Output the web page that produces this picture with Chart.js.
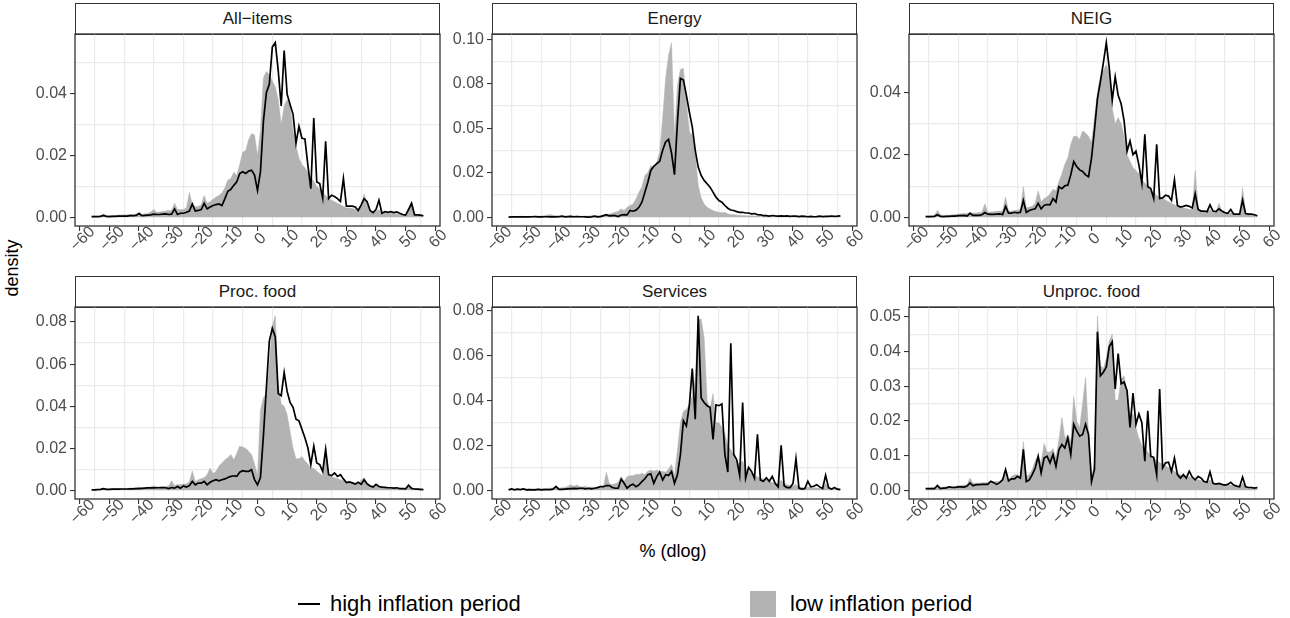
<!DOCTYPE html>
<html>
<head>
<meta charset="utf-8">
<script src="https://cdn.jsdelivr.net/npm/chart.js@4/dist/chart.umd.min.js"></script>
<style>
body { margin: 0; background: #fff; font-family: "Liberation Sans", Arial, sans-serif; }
#page { position: relative; width: 1290px; height: 618px; overflow: hidden; background: #fff; }
.strip { position: absolute; box-sizing: border-box; border: 1.3px solid #333; background: #fff;
         color: #1a1a1a; font-size: 17px; text-align: center; line-height: 29px; }
canvas { position: absolute; }
.title { position: absolute; color: #000; font-size: 18px; text-align: center; line-height: 20px; }
.legend-text { position: absolute; font-size: 22px; line-height: 24px; color: #000; white-space: nowrap; }
</style>
</head>
<body>
<div id="page">
  <div class="title" style="left:-38px; top:258px; width:100px; transform: rotate(-90deg);">density</div>
  <div class="title" style="left:573px; top:541px; width:200px;">% (dlog)</div>
  <div style="position:absolute; left:298px; top:603px; width:22px; height:2px; background:#000;"></div>
  <div class="legend-text" style="left:330px; top:592px;">high inflation period</div>
  <div style="position:absolute; left:750px; top:591px; width:26px; height:26px; background:#b3b3b3;"></div>
  <div class="legend-text" style="left:790px; top:592px;">low inflation period</div>
</div>
<script>
// price change grid (% dlog)
const xs = [-56,-55,-54,-53,-52,-51,-50,-49,-48,-47,-46,-45,-44,-43,-42,-41,-40,-39,-38,-37,-36,-35,-34,-33,-32,-31,
  -30,-29,-28,-27,-26,-25,-24,-23,-22,-21,-20,-19,-18,-17,-16,-15,-14,-13,-12,-11,-10,-9,-8,-7,-6,-5,-4,-3,-2,-1,
  0,1,2,3,4,5,6,7,8,9,10,11,12,13,14,15,16,17,18,19,20,21,22,23,24,25,26,27,28,29,30,
  31,32,33,34,35,36,37,38,39,40,41,42,43,44,45,46,47,48,49,50,51,52,53,54,55,56];

const xTicks = [-60,-50,-40,-30,-20,-10,0,10,20,30,40,50,60];
const xMinorBreaks = [-55,-45,-35,-25,-15,-5,5,15,25,35,45,55];

// density, high inflation period (line) and low inflation period (area)
const allItemsHigh = [.0002,.0002,.0002,.0003,.0006,.0003,.0002,.0003,.0003,.0004,.0004,.0004,.0004,.0005,.0005,.0006,.0012,.0005,.0006,.0007,.0008,.001,.0009,.0009,.001,.0011,
  .0009,.001,.0027,.0009,.0013,.0013,.0016,.002,.0043,.002,.0022,.0025,.0045,.0027,.0033,.0038,.0041,.0043,.0038,.006,.0084,.009,.0103,.0114,.0141,.0147,.0141,.0149,.0152,.0136,
  .0087,.0147,.031,.0402,.043,.0549,.0563,.0473,.0359,.0538,.0397,.0364,.0332,.0239,.0293,.0255,.0253,.0168,.0092,.032,.0114,.0109,.0062,.0245,.006,.0071,.0067,.006,.0051,.0125,.0036,
  .0036,.0036,.0033,.0022,.004,.006,.005,.0022,.0015,.0025,.0055,.0013,.0018,.0016,.0018,.0015,.0017,.0013,.0009,.0007,.0025,.0045,.0008,.0008,.0007,.0005];
const allItemsLow = [.0004,.0004,.0004,.0005,.001,.0006,.0005,.0006,.0006,.0007,.0007,.0008,.0008,.0009,.0009,.001,.0016,.001,.0011,.0012,.0018,.0025,.0016,.0017,.0019,.002,
  .0022,.0022,.0045,.0025,.0025,.0025,.003,.008,.004,.0035,.0035,.004,.007,.0045,.005,.0058,.0065,.007,.0078,.0095,.012,.0125,.0145,.0135,.017,.021,.0215,.025,.027,.0265,
  .02,.028,.045,.047,.046,.044,.042,.038,.03,.036,.038,.036,.028,.023,.019,.017,.016,.0145,.013,.0115,.01,.009,.008,.007,.006,.0055,.005,.0045,.004,.0035,.003,
  .003,.0028,.0026,.0025,.004,.0075,.004,.002,.0018,.0018,.0025,.0015,.0014,.0013,.0013,.0012,.0011,.001,.0009,.0009,.003,.005,.001,.0007,.0006,.0005];

const energyHigh = [.0001,.0002,.0002,.0003,.0002,.0003,.0002,.0002,.0003,.0004,.0002,.0002,.0003,.0003,.0002,.0003,.0002,.0003,.0006,.0002,.0004,.0005,.0003,.0004,.0003,.0003,
  .0002,.0001,.0002,.0006,.0002,.0004,.0009,.0015,.0008,.0009,.0009,.0004,.0013,.0015,.0013,.0038,.0034,.004,.0056,.0085,.014,.0197,.0263,.0286,.0301,.0314,.0376,.0423,.0438,.036,
  .0239,.0536,.078,.0771,.0686,.0592,.0508,.0376,.0282,.0235,.0207,.0188,.0169,.0141,.0113,.0094,.0085,.0066,.0051,.0041,.0038,.0032,.0028,.0028,.0024,.0024,.0019,.0021,.0015,.0014,.0009,
  .0009,.0007,.001,.0008,.0007,.0008,.0006,.0008,.0005,.0007,.0006,.0004,.0006,.0005,.0003,.0005,.0003,.0004,.0006,.0004,.0005,.0005,.0007,.0005,.0006,.0008];
const energyLow = [.0003,.0005,.0004,.0005,.0006,.0005,.0004,.0005,.0006,.0005,.0006,.0007,.0009,.0013,.0015,.0012,.0009,.0008,.0007,.0007,.0006,.0007,.0006,.0006,.0007,.0006,
  .0007,.0007,.0008,.0008,.0009,.001,.0012,.0014,.0018,.0022,.0028,.0034,.0047,.0038,.0056,.0066,.0075,.0103,.014,.017,.0235,.025,.029,.028,.031,.0367,.0555,.078,.091,.098,
  .045,.074,.083,.0837,.065,.048,.046,.0348,.018,.011,.0075,.0056,.0047,.0038,.0032,.0028,.0025,.0028,.0019,.0016,.0015,.0012,.0012,.001,.0009,.0008,.0008,.0007,.0007,.0006,.0006,
  .0006,.0005,.0005,.0005,.0005,.0005,.0004,.0004,.0004,.0004,.0004,.0004,.0004,.0004,.0004,.0004,.0005,.0005,.0004,.0003,.0003,.0003,.0003,.0004,.0003,.0003];

const neigHigh = [.0002,.0002,.0002,.0003,.0008,.0003,.0002,.0003,.0003,.0004,.0004,.0005,.0005,.0006,.0004,.0013,.0006,.0006,.0006,.0008,.0015,.001,.0009,.0009,.001,.0011,
  .0009,.0035,.0013,.0013,.0016,.0014,.0016,.0054,.0016,.0022,.0025,.0027,.0045,.0027,.0038,.0041,.004,.006,.0049,.0098,.0092,.0101,.0103,.0136,.0179,.0163,.0152,.0147,.0136,.013,
  .019,.028,.038,.0435,.0495,.056,.0478,.0375,.0451,.0391,.0364,.031,.0212,.0245,.0201,.0212,.0168,.0109,.0266,.0098,.0092,.006,.0234,.006,.0062,.0071,.0068,.0054,.012,.0038,.0033,
  .0035,.0038,.0035,.003,.0075,.0025,.002,.002,.0018,.004,.002,.0018,.0027,.002,.0015,.0013,.0025,.001,.001,.001,.0055,.0012,.001,.001,.0008,.0005];
const neigLow = [.0004,.0004,.0005,.0006,.0022,.0008,.0006,.0006,.0007,.0008,.0009,.001,.0011,.0012,.0012,.0013,.0014,.0014,.0015,.0016,.0043,.0016,.0017,.0018,.0019,.002,
  .002,.0065,.002,.002,.0022,.0023,.0025,.0098,.003,.0033,.0035,.0045,.0085,.005,.006,.0065,.0075,.009,.0085,.0115,.014,.017,.019,.0234,.026,.026,.025,.0277,.027,.026,
  .024,.032,.04,.045,.047,.049,.046,.035,.03,.032,.03,.026,.02,.018,.016,.015,.014,.012,.011,.01,.0085,.008,.007,.0065,.006,.0055,.005,.0045,.004,.0035,.003,
  .003,.0028,.0025,.0025,.015,.003,.002,.0018,.0017,.0025,.0015,.0015,.0045,.002,.0012,.0011,.0015,.001,.0009,.001,.0095,.0012,.0008,.0007,.0006,.0005];

const procFoodHigh = [.0002,.0002,.0003,.0004,.0008,.0004,.0004,.0005,.0006,.0005,.0006,.0006,.0006,.0007,.0007,.0008,.0008,.0009,.001,.0011,.0012,.0011,.0012,.0012,.0013,.0012,
  .0008,.0013,.001,.0018,.001,.0021,.0015,.0022,.0042,.0026,.0034,.0034,.0042,.0026,.0038,.0045,.005,.0045,.005,.0054,.0061,.0066,.0069,.0066,.0086,.0093,.009,.009,.0098,.005,
  .0026,.006,.026,.049,.071,.077,.073,.046,.045,.056,.047,.0418,.0394,.0338,.033,.029,.025,.0202,.0122,.021,.013,.0122,.009,.0194,.0074,.007,.0082,.0066,.0074,.0054,.0037,
  .004,.0035,.003,.0038,.0028,.005,.003,.002,.0015,.0028,.0018,.0015,.0014,.0012,.0012,.001,.0012,.0008,.0008,.0007,.0024,.0009,.0006,.0005,.0004,.0003];
const procFoodLow = [.0004,.0004,.0005,.0005,.0009,.0006,.0006,.0007,.0007,.0008,.0008,.0009,.0009,.001,.0011,.0012,.0016,.0012,.0013,.0014,.0016,.0022,.0016,.0017,.0017,.0018,
  .002,.0045,.0022,.0028,.0027,.003,.003,.004,.0092,.004,.005,.0055,.006,.0075,.0105,.008,.009,.0115,.013,.0145,.0155,.017,.0145,.0175,.021,.0205,.02,.0185,.017,.0125,
  .007,.038,.044,.046,.06,.078,.083,.05,.041,.04,.036,.028,.02,.015,.015,.016,.014,.0125,.0105,.0105,.009,.008,.007,.022,.007,.0065,.006,.0055,.005,.0045,.004,
  .0035,.0033,.003,.003,.005,.006,.0035,.0025,.002,.002,.0018,.0016,.0015,.0014,.0013,.0012,.0011,.001,.001,.0009,.003,.001,.0008,.0007,.0006,.0005];

const servicesHigh = [.0002,.0006,.0002,.0005,.0003,.0006,.0002,.0003,.0002,.0002,.0004,.0002,.0003,.0003,.0003,.0005,.0017,.0004,.0004,.0005,.0006,.0007,.0008,.0007,.0009,.0009,
  .0006,.0009,.0006,.0009,.0012,.0016,.0016,.0021,.0021,.0012,.0009,.0009,.005,.0031,.0009,.0021,.0027,.0016,.0024,.0039,.0051,.0069,.0073,.0031,.0061,.0081,.0046,.0069,.0066,.0084,
  .0031,.0069,.0159,.0309,.0286,.0376,.0541,.0316,.0776,.041,.039,.0376,.0369,.0226,.038,.0376,.0384,.0159,.0081,.0653,.0159,.0136,.0066,.039,.0054,.0102,.0084,.0054,.0249,.0045,.004,
  .0055,.004,.0062,.003,.0015,.02,.002,.0012,.0012,.003,.014,.001,.0005,.0008,.004,.0015,.0018,.0025,.0015,.0008,.0067,.0012,.0005,.0012,.0005,.0003];
const servicesLow = [.0005,.0006,.0005,.0007,.0005,.0007,.0006,.0006,.0006,.0007,.0007,.0007,.0008,.0008,.0009,.001,.0014,.001,.0011,.0012,.0018,.0025,.0018,.0024,.0016,.0015,
  .0018,.0012,.0015,.001,.0015,.0012,.0015,.008,.003,.0025,.003,.0035,.006,.004,.006,.0065,.0065,.007,.007,.0075,.007,.0085,.009,.0085,.009,.0085,.0085,.008,.0095,.0115,
  .0065,.018,.03,.035,.036,.038,.042,.05,.076,.076,.068,.04,.036,.043,.03,.03,.028,.025,.02,.018,.016,.012,.012,.013,.0095,.009,.0075,.0065,.006,.0055,.005,
  .0045,.004,.0035,.003,.003,.0045,.003,.0025,.002,.002,.0025,.0015,.0013,.0012,.0015,.0012,.0011,.001,.001,.0009,.003,.001,.0008,.0008,.0007,.0006];

const unprocFoodHigh = [.0005,.0005,.0005,.0005,.0014,.0005,.0006,.0007,.001,.0008,.0008,.001,.001,.0009,.0012,.0021,.0013,.0016,.0016,.0017,.0017,.0017,.0026,.0022,.0017,.0022,
  .003,.006,.0027,.0033,.0033,.004,.0035,.0118,.0025,.003,.0045,.0064,.0098,.005,.0093,.0098,.0079,.0103,.0069,.0117,.0132,.0122,.0151,.0103,.019,.0171,.0156,.0161,.019,.0161,
  .0025,.006,.0457,.033,.034,.0355,.0414,.0428,.0292,.0394,.0307,.0312,.0287,.0181,.028,.019,.022,.0195,.0084,.0229,.0098,.0095,.0045,.0292,.0064,.0079,.0081,.0054,.0093,.0045,.0035,
  .0045,.0035,.0055,.0038,.003,.004,.0035,.0025,.0023,.0053,.002,.0018,.002,.0017,.0015,.0017,.0023,.0015,.0012,.001,.0038,.001,.0008,.0008,.0006,.0008];
const unprocFoodLow = [.0006,.0006,.0007,.0007,.0012,.0008,.0009,.001,.001,.0011,.0012,.0013,.0014,.0015,.0016,.0035,.002,.002,.0021,.0022,.0022,.0023,.0025,.0025,.0025,.0025,
  .0035,.0055,.003,.004,.0045,.0045,.004,.014,.004,.0045,.006,.0085,.01,.008,.0135,.011,.011,.012,.0095,.0145,.021,.015,.016,.014,.027,.02,.018,.025,.0325,.016,
  .0035,.008,.0503,.036,.035,.038,.043,.045,.026,.026,.032,.033,.028,.022,.022,.018,.015,.013,.012,.011,.01,.009,.0085,.008,.0075,.007,.0065,.006,.0055,.005,.0045,
  .004,.0035,.004,.0035,.003,.003,.0028,.0025,.0022,.003,.002,.0018,.0017,.0016,.0015,.0014,.0015,.0013,.0011,.001,.002,.001,.0009,.0008,.0007,.0006];

// y axis breaks and their labels, per facet
const yTicksBy02 = [0, 0.02, 0.04];
const yLabelsBy02 = ['0.00', '0.02', '0.04'];
const yTicksEnergy = [0, 0.025, 0.05, 0.075, 0.1];
const yLabelsEnergy = ['0.00', '0.02', '0.05', '0.08', '0.10'];
const yTicksTo08 = [0, 0.02, 0.04, 0.06, 0.08];
const yLabelsTo08 = ['0.00', '0.02', '0.04', '0.06', '0.08'];
const yTicksUnproc = [0, 0.01, 0.02, 0.03, 0.04, 0.05];
const yLabelsUnproc = ['0.00', '0.01', '0.02', '0.03', '0.04', '0.05'];

const panels = [
  { title: 'All\u2212items', high: allItemsHigh, low: allItemsLow, yTicks: yTicksBy02, yLabels: yLabelsBy02 },
  { title: 'Energy', high: energyHigh, low: energyLow, yTicks: yTicksEnergy, yLabels: yLabelsEnergy },
  { title: 'NEIG', high: neigHigh, low: neigLow, yTicks: yTicksBy02, yLabels: yLabelsBy02 },
  { title: 'Proc. food', high: procFoodHigh, low: procFoodLow, yTicks: yTicksTo08, yLabels: yLabelsTo08 },
  { title: 'Services', high: servicesHigh, low: servicesLow, yTicks: yTicksTo08, yLabels: yLabelsTo08 },
  { title: 'Unproc. food', high: unprocFoodHigh, low: unprocFoodLow, yTicks: yTicksUnproc, yLabels: yLabelsUnproc }
];

// facet geometry
const colLeft = [75, 492, 909];
const rowTop = [34, 307];
const plotW = 365, plotH = 192, axisW = 50, axisH = 45, padR = 14, padT = 10, stripH = 31;

const FONT = '"Liberation Sans", Arial, Helvetica, sans-serif';
Chart.defaults.font.family = FONT;

const panelDecor = {
  id: 'panelDecor',
  afterDatasetsDraw(chart) {
    const { ctx, chartArea: a } = chart;
    ctx.save();
    ctx.strokeStyle = '#333333';
    ctx.lineWidth = 1.3;
    ctx.strokeRect(a.left, a.top, a.right - a.left, a.bottom - a.top);
    ctx.restore();
  },
  afterDraw(chart) {
    // x labels turned 45 degrees and centred under the tick, as ggplot does
    const sx = chart.scales.x, ctx = chart.ctx;
    ctx.save();
    ctx.fillStyle = '#4d4d4d';
    ctx.font = '16px ' + FONT;
    ctx.textAlign = 'center';
    ctx.textBaseline = 'middle';
    sx.ticks.forEach(t => {
      const px = sx.getPixelForValue(t.value);
      ctx.save();
      ctx.translate(px + 3, chart.chartArea.bottom + 13);
      ctx.rotate(-Math.PI / 4);
      ctx.fillText(String(t.value).replace('-', '\u2212'), 0, 0);
      ctx.restore();
    });
    ctx.restore();
  }
};

// fixed axis boxes, no extra padding for edge labels
function fixHorizontal(h) {
  return s => { s.height = h; s.paddingLeft = 0; s.paddingRight = 0; s.paddingTop = 0; s.paddingBottom = 0; };
}
function fixVertical(w) {
  return s => { s.width = w; s.paddingLeft = 0; s.paddingRight = 0; s.paddingTop = 0; s.paddingBottom = 0; };
}

const page = document.getElementById('page');

function drawPanel(p, idx) {
  const left = colLeft[idx % 3], top = rowTop[Math.floor(idx / 3)];

  const strip = document.createElement('div');
  strip.className = 'strip';
  strip.style.left = left + 'px';
  strip.style.top = (top - stripH) + 'px';
  strip.style.width = plotW + 'px';
  strip.style.height = (stripH + 1) + 'px';
  strip.textContent = p.title;
  page.appendChild(strip);

  const canvas = document.createElement('canvas');
  canvas.width = axisW + plotW + padR;
  canvas.height = padT + plotH + axisH;
  canvas.style.left = (left - axisW) + 'px';
  canvas.style.top = (top - padT) + 'px';
  page.appendChild(canvas);

  const peak = Math.max(...p.high, ...p.low);
  const yMin = -0.05 * peak, yMax = 1.05 * peak;
  const step = p.yTicks[1] - p.yTicks[0];
  const yMinor = p.yTicks.map(v => v + step / 2).filter(v => v < yMax);

  new Chart(canvas, {
    type: 'line',
    data: {
      datasets: [
        {
          label: 'high inflation period',
          data: xs.map((x, i) => ({ x: x, y: p.high[i] })),
          borderColor: '#000000',
          borderWidth: 1.7,
          pointRadius: 0,
          fill: false,
          order: 1
        },
        {
          label: 'low inflation period',
          data: xs.map((x, i) => ({ x: x, y: p.low[i] })),
          borderColor: '#b3b3b3',
          backgroundColor: '#b3b3b3',
          borderWidth: 0.5,
          pointRadius: 0,
          fill: 'origin',
          order: 2
        }
      ]
    },
    options: {
      responsive: false,
      animation: false,
      events: [],
      layout: { padding: { left: 0, right: padR, top: padT, bottom: 0 }, autoPadding: false },
      plugins: { legend: { display: false }, tooltip: { enabled: false } },
      scales: {
        x: {
          type: 'linear', min: -61.6, max: 61.6,
          afterBuildTicks: s => { s.ticks = xTicks.map(v => ({ value: v })); },
          afterFit: fixHorizontal(axisH),
          ticks: { display: false },
          grid: { drawOnChartArea: false, tickLength: 5, color: '#333333', lineWidth: 1.1 },
          border: { display: false }
        },
        xg: {
          type: 'linear', axis: 'x', position: 'bottom', min: -61.6, max: 61.6,
          afterBuildTicks: s => { s.ticks = xMinorBreaks.map(v => ({ value: v })); },
          afterFit: fixHorizontal(0),
          ticks: { display: false },
          grid: { color: '#ebebeb', lineWidth: 1.2, drawTicks: false },
          border: { display: false }
        },
        y: {
          type: 'linear', min: yMin, max: yMax,
          afterBuildTicks: s => { s.ticks = p.yTicks.map(v => ({ value: v })); },
          afterFit: fixVertical(axisW),
          ticks: {
            callback: (v, i) => p.yLabels[i],
            color: '#4d4d4d',
            font: { size: 16 },
            padding: 3
          },
          grid: { drawOnChartArea: false, tickLength: 5, color: '#333333', lineWidth: 1.1 },
          border: { display: false }
        },
        yg: {
          type: 'linear', axis: 'y', position: 'left', min: yMin, max: yMax,
          afterBuildTicks: s => { s.ticks = yMinor.map(v => ({ value: v })); },
          afterFit: fixVertical(0),
          ticks: { display: false },
          grid: { color: '#ebebeb', lineWidth: 1.2, drawTicks: false },
          border: { display: false }
        }
      }
    },
    plugins: [panelDecor]
  });
}

panels.forEach(drawPanel);
</script>
</body>
</html>
